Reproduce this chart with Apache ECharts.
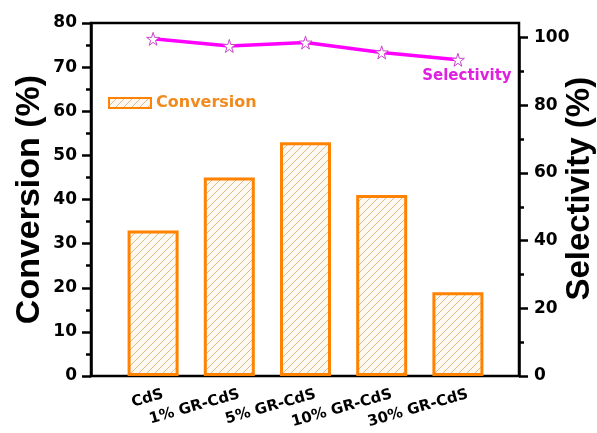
<!DOCTYPE html>
<html>
<head>
<meta charset="utf-8">
<script src="https://cdn.jsdelivr.net/npm/echarts@6/dist/echarts.min.js"></script>
<style>
  html, body { margin: 0; padding: 0; background: #fff; }
  #chart { width: 597px; height: 433px; }
</style>
</head>
<body>
<div id="chart"></div>
<script>
// Samples on the category axis
const categories = ['CdS', '1% GR-CdS', '5% GR-CdS', '10% GR-CdS', '30% GR-CdS'];
// Conversion (%) — bars, left axis
const conversion = [33, 45, 53, 41, 19];
// Selectivity (%) — line, right axis
const selectivity = [99.6, 97.5, 98.5, 95.6, 93.4];
// Tick settings
const convTicks = { min: 0, max: 80, interval: 10 };
const selTicks = { min: 0, max: 100, interval: 20 };

const ORANGE = '#FF8200';
const MAGENTA = '#FF00FF';
const FONT = 'DejaVu Sans';

// Diagonal hatch fill for the bars
function hatch() {
  const s = 8;
  const c = document.createElement('canvas');
  c.width = s; c.height = s;
  const g = c.getContext('2d');
  g.fillStyle = '#FCF9F2';
  g.fillRect(0, 0, s, s);
  g.strokeStyle = '#DDBA88';
  g.lineWidth = 1;
  g.beginPath();
  g.moveTo(0, s); g.lineTo(s, 0);
  g.moveTo(-1, 1); g.lineTo(1, -1);
  g.moveTo(s - 1, s + 1); g.lineTo(s + 1, s - 1);
  g.stroke();
  return { image: c, repeat: 'repeat' };
}

const STAR = 'path://M50,0 L61,35 L98,35 L68,57 L79,91 L50,70 L21,91 L32,57 L2,35 L39,35 Z';

const chart = echarts.init(document.getElementById('chart'), null, { renderer: 'canvas' });

// Styling shared by the two visible value axes (fresh objects per axis)
function visibleAxis(extra) {
  return Object.assign({
    type: 'value',
    nameLocation: 'middle', nameRotate: 90, nameMoveOverlap: false,
    axisLine: { show: true, onZero: false, lineStyle: { color: '#000', width: 2.5 } },
    axisTick: { show: true, inside: false, length: 9, lineStyle: { color: '#000', width: 2.5 } },
    minorTick: { show: true, splitNumber: 2, length: 5, lineStyle: { color: '#000', width: 2.5 } },
    splitLine: { show: false },
    axisLabel: { margin: 14, fontFamily: FONT, fontWeight: 'bold', fontSize: 17, color: '#000' }
  }, extra);
}
// Hidden axes used only for positioning
function hiddenCat(gridIndex) {
  return { gridIndex, type: 'category', data: categories, show: false, axisLine: { onZero: false } };
}
function hiddenVal(gridIndex, min, max) {
  return { gridIndex, type: 'value', min, max, show: false, axisLine: { onZero: false } };
}
// Fixed-position grid rectangles
function box(left, right, top, bottom, extra) {
  return Object.assign({ left, right, top, bottom, containLabel: false, outerBoundsMode: 'none' }, extra || {});
}

chart.setOption({
  animation: false,
  backgroundColor: '#fff',
  legend: {
    data: ['Conversion'],
    left: 103, top: 90,
    itemWidth: 42, itemHeight: 10,
    icon: 'rect',
    textStyle: { fontFamily: FONT, fontWeight: 'bold', fontSize: 16, color: '#F08A1C' }
  },
  grid: [
    // 0: frame + left axis
    box(91, 78, 23, 57, { show: true, borderColor: '#000', borderWidth: 2.5, backgroundColor: 'transparent' }),
    // 1: bars
    box(115, 101, 23, 57),
    // 2: selectivity line
    box(115, 101, 37.5, 57),
    // 3: right axis
    box(91, 78, 37.5, 57),
    // 4: category labels
    box(125, 91, 23, 57)
  ],
  xAxis: [
    hiddenCat(0),
    hiddenCat(1),
    hiddenCat(2),
    hiddenCat(3),
    {
      gridIndex: 4, type: 'category', data: categories,
      axisLine: { show: false, onZero: false }, axisTick: { show: false },
      axisLabel: { rotate: 16, margin: 18, fontFamily: FONT, fontWeight: 'bold', fontSize: 15, color: '#000', interval: 0 }
    }
  ],
  yAxis: [
    visibleAxis({
      gridIndex: 0, position: 'left',
      min: convTicks.min, max: convTicks.max, interval: convTicks.interval,
      name: 'Conversion (%)', nameGap: 44,
      nameTextStyle: { fontFamily: 'Liberation Sans', fontWeight: 'bold', fontSize: 34, color: '#000' }
    }),
    hiddenVal(1, convTicks.min, convTicks.max),
    hiddenVal(2, selTicks.min, selTicks.max),
    visibleAxis({
      gridIndex: 3, position: 'right',
      min: selTicks.min, max: selTicks.max, interval: selTicks.interval,
      name: 'Selectivity (%)', nameGap: 44,
      nameTextStyle: { fontFamily: 'Liberation Sans', fontWeight: 'bold', fontSize: 33, color: '#000', padding: [0, 0, 0, 36] },
      axisLabel: { margin: 15, fontFamily: FONT, fontWeight: 'bold', fontSize: 17, color: '#000' }
    }),
    hiddenVal(4, 0, 1)
  ],
  series: [
    {
      name: 'Conversion', type: 'bar',
      xAxisIndex: 1, yAxisIndex: 1,
      data: conversion,
      barWidth: 51,
      itemStyle: { color: hatch(), borderColor: ORANGE, borderWidth: 3 }
    },
    {
      name: 'Selectivity', type: 'line',
      xAxisIndex: 2, yAxisIndex: 2,
      data: selectivity.map((v, i) => i === selectivity.length - 1 ? {
        value: v,
        label: {
          show: true, formatter: 'Selectivity', position: 'bottom', distance: 2, offset: [9, 0],
          fontFamily: FONT, fontWeight: 'bold', fontSize: 15, color: '#E020E0'
        }
      } : v),
      symbol: STAR, symbolSize: 13, showAllSymbol: true,
      lineStyle: { color: MAGENTA, width: 3.5 },
      itemStyle: { color: '#fff', borderColor: '#CC44CC', borderWidth: 1 },
      z: 5
    }
  ]
});
</script>
</body>
</html>
